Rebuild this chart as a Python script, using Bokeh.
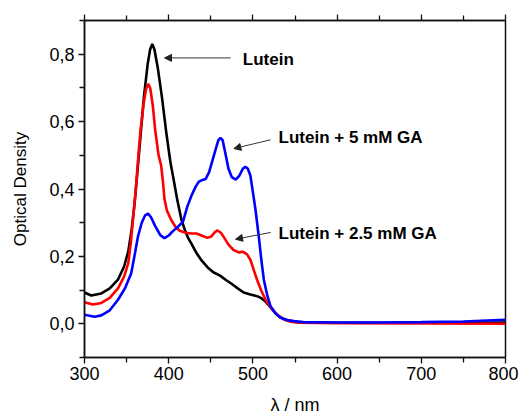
from bokeh.plotting import figure
from bokeh.models import (Range1d, FixedTicker, LinearAxis, CustomJSTickFormatter,
                          Label, Arrow, NormalHead)
from bokeh.embed import file_html
from bokeh.resources import INLINE

# ---------------- data ----------------
lutein_nm = [300, 308, 320, 330, 340, 347, 352, 356, 359.5, 363, 367, 370.5, 375, 378,
             380.5, 383, 387, 392, 397, 402, 406, 410, 415, 419, 423, 427, 433, 439,
             446, 453, 461, 468, 475, 482, 489, 497, 505, 510, 515, 520, 526, 532,
             539, 547, 557, 600, 700, 800]
lutein_od = [0.093, 0.084, 0.090, 0.105, 0.132, 0.170, 0.215, 0.280, 0.357, 0.456, 0.570,
             0.672, 0.770, 0.815, 0.830, 0.815, 0.760, 0.672, 0.570, 0.480, 0.426, 0.370,
             0.310, 0.280, 0.255, 0.238, 0.210, 0.188, 0.168, 0.153, 0.143, 0.130, 0.118,
             0.105, 0.093, 0.087, 0.082, 0.076, 0.066, 0.052, 0.034, 0.020, 0.011, 0.006,
             0.004, 0.003, 0.003, 0.004]

ga25_nm = [300, 310, 320, 330, 340, 347, 352, 355, 357.5, 361.5, 364, 366.5, 370, 373,
           375.5, 378, 381, 384, 388, 391, 393, 395, 398, 403, 408, 413, 420, 427, 433,
           439, 446, 450, 455, 458, 462, 466, 471, 477, 483, 488, 493, 497, 501, 505,
           510, 515, 521, 529, 537, 545, 555, 600, 700, 800]
ga25_od = [0.064, 0.057, 0.062, 0.077, 0.106, 0.140, 0.180, 0.240, 0.308, 0.417, 0.500,
           0.574, 0.650, 0.695, 0.712, 0.700, 0.650, 0.574, 0.500, 0.470, 0.426, 0.370,
           0.335, 0.308, 0.288, 0.276, 0.270, 0.268, 0.268, 0.262, 0.255, 0.258, 0.272,
           0.277, 0.270, 0.255, 0.235, 0.219, 0.212, 0.214, 0.206, 0.190, 0.160, 0.130,
           0.098, 0.072, 0.048, 0.027, 0.013, 0.006, 0.003, 0.002, 0.001, 0.000]

ga5_nm = [300, 312, 320, 330, 340, 348, 355.5, 360, 363.5, 368, 372, 375.5, 379, 384,
          390, 395, 400, 405, 411, 417, 422, 427, 432, 436, 440, 444, 448, 452, 456,
          459, 461.5, 464, 467, 471, 475, 479.5, 484, 488, 491, 494, 497, 499, 503,
          507, 510, 513, 517, 521, 527, 533, 541, 549, 560, 600, 650, 700, 750, 800]
ga5_od = [0.027, 0.021, 0.025, 0.040, 0.072, 0.105, 0.150, 0.210, 0.259, 0.300, 0.322,
          0.327, 0.316, 0.290, 0.263, 0.254, 0.262, 0.275, 0.288, 0.303, 0.347, 0.380,
          0.407, 0.422, 0.427, 0.430, 0.450, 0.485, 0.520, 0.545, 0.552, 0.545, 0.510,
          0.460, 0.435, 0.428, 0.440, 0.460, 0.466, 0.460, 0.440, 0.407, 0.340, 0.259,
          0.190, 0.131, 0.085, 0.052, 0.030, 0.018, 0.011, 0.008, 0.005, 0.004, 0.004,
          0.005, 0.007, 0.012]

x_ticks = [300, 400, 500, 600, 700, 800]
x_minor = [350, 450, 550, 650, 750]
y_ticks = [0.0, 0.2, 0.4, 0.6, 0.8]
y_minor = [-0.1, 0.1, 0.3, 0.5, 0.7, 0.9]

labels = ["Lutein", "Lutein + 5 mM GA", "Lutein + 2.5 mM GA"]
label_x = [488, 530.5, 530.5]
label_y = [0.785, 0.554, 0.269]
arrow_x0 = [473.5, 521, 521]
arrow_y0 = [0.789, 0.546, 0.271]
arrow_x1 = [395, 477.4, 479.4]
arrow_y1 = [0.789, 0.520, 0.251]

FONT = "Liberation Sans"

p = figure(width=518, height=418, output_backend="svg", toolbar_location=None,
           x_range=Range1d(300, 800), y_range=Range1d(-0.1, 0.9),
           min_border_left=84, min_border_right=13, min_border_top=20,
           min_border_bottom=61)
p.background_fill_color = "white"
p.border_fill_color = "white"
p.outline_line_color = "#111111"
p.outline_line_width = 1.5
p.xgrid.visible = False
p.ygrid.visible = False

p.line(lutein_nm, lutein_od, color="black", line_width=2.6)
p.line(ga25_nm, ga25_od, color="#ff0000", line_width=2.6)
p.line(ga5_nm, ga5_od, color="#0000ff", line_width=2.6)

xt = FixedTicker(ticks=x_ticks, minor_ticks=x_minor)
yt = FixedTicker(ticks=y_ticks, minor_ticks=y_minor)

def style(ax):
    ax.axis_line_color = "#111111"
    ax.axis_line_width = 1.5
    ax.major_tick_line_color = "#111111"
    ax.minor_tick_line_color = "#111111"
    ax.major_tick_line_width = 1.3
    ax.minor_tick_line_width = 1.3
    ax.major_tick_in = 0
    ax.minor_tick_in = 0
    ax.major_tick_out = 6
    ax.minor_tick_out = 5
    ax.major_label_text_font = FONT
    ax.major_label_text_font_size = "18px"
    ax.major_label_text_color = "black"
    ax.axis_label_text_font = FONT
    ax.axis_label_text_font_style = "normal"
    ax.axis_label_text_color = "black"

xa = p.xaxis[0]
xa.ticker = xt
style(xa)
xa.major_label_standoff = 3
xa.axis_label = "λ / nm"
xa.axis_label_text_font_size = "18px"
xa.axis_label_standoff = 12

ya = p.yaxis[0]
ya.ticker = yt
style(ya)
ya.formatter = CustomJSTickFormatter(code="return tick.toFixed(1).replace('.', ',');")
ya.major_label_standoff = 4
ya.axis_label = "Optical Density"
ya.axis_label_text_font_size = "17px"
ya.axis_label_standoff = 16

top = LinearAxis(ticker=xt, formatter=CustomJSTickFormatter(code="return '';"))
style(top)
top.major_label_standoff = 0
p.add_layout(top, "above")

for t, lx, ly in zip(labels, label_x, label_y):
    p.add_layout(Label(x=lx, y=ly, text=t, text_font=FONT, text_font_style="bold",
                       text_font_size="17px", text_baseline="middle", text_align="left",
                       text_color="black"))

for x0, y0, x1, y1 in zip(arrow_x0, arrow_y0, arrow_x1, arrow_y1):
    p.add_layout(Arrow(end=NormalHead(size=7, fill_color="#222222", line_color="#222222",
                                      line_width=1),
                       x_start=x0, y_start=y0, x_end=x1, y_end=y1,
                       line_color="#333333", line_width=1))

open("out.html", "w").write(file_html(p, INLINE))
